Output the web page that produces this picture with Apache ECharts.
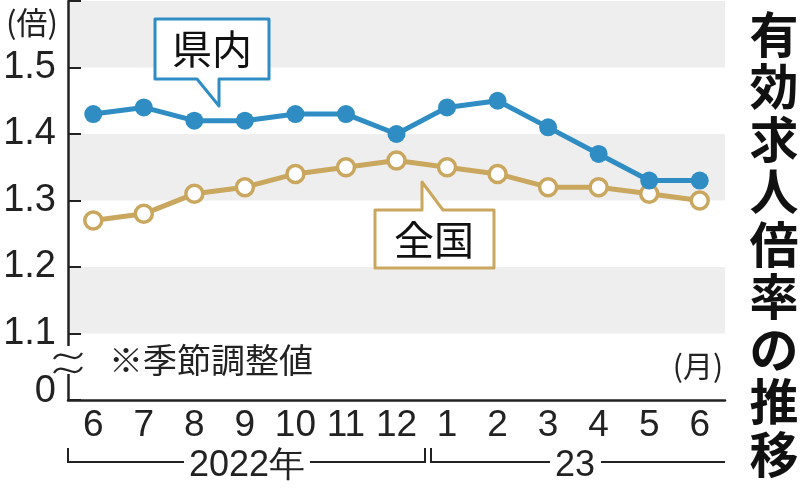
<!DOCTYPE html>
<html><head><meta charset="utf-8">
<script src="https://cdn.jsdelivr.net/npm/echarts@6/dist/echarts.min.js"></script>
<style>html,body{margin:0;padding:0;background:#fff}#c{width:800px;height:492px}</style>
</head><body><div id="c"></div>
<script>
const monthLabels = ['6','7','8','9','10','11','12','1','2','3','4','5','6'];
const categories = ['2022-6','2022-7','2022-8','2022-9','2022-10','2022-11','2022-12','2023-1','2023-2','2023-3','2023-4','2023-5','2023-6'];
const kennai = [1.43,1.44,1.42,1.42,1.43,1.43,1.40,1.44,1.45,1.41,1.37,1.33,1.33];
const zenkoku = [1.27,1.28,1.31,1.32,1.34,1.35,1.36,1.35,1.34,1.32,1.32,1.31,1.30];
const yTicks = [1.0,1.1,1.2,1.3,1.4,1.5,1.6];

const NUM = "'Liberation Sans',sans-serif";
const JP = "'Noto Sans CJK JP',sans-serif";
const BLUE = '#2f8dc3';
const TAN = '#c9a75e';

const chart = echarts.init(document.getElementById('c'), null, {renderer:'canvas'});
chart.setOption({
  animation:false,
  grid:{left:68,right:75,top:1,bottom:92},
  xAxis:{
    type:'category', data:categories, boundaryGap:true,
    axisLine:{lineStyle:{color:'#222',width:2.5}},
    axisTick:{inside:true,length:9,alignWithLabel:true,interval:0,lineStyle:{color:'#222',width:2}},
    axisLabel:{fontFamily:NUM,fontSize:37,color:'#222',margin:7,interval:0,
      formatter:(v,i)=>monthLabels[i]}
  },
  yAxis:{
    type:'value', min:yTicks[0], max:yTicks[yTicks.length-1], interval:0.1,
    axisLine:{show:true,lineStyle:{color:'#222',width:2.5}},
    axisTick:{show:true,inside:true,length:13,lineStyle:{color:'#222',width:2}},
    splitLine:{show:false},
    splitArea:{show:true,areaStyle:{color:['rgba(255,255,255,0)','#eeeeee']}},
    axisLabel:{fontFamily:NUM,fontSize:38,color:'#222',margin:12,
      formatter:v=>{const r=Math.round(v*10)/10; if(r===1.0) return '{z|0}'; if(r===1.6) return ''; return r.toFixed(1);},
      rich:{z:{fontFamily:NUM,fontSize:38,color:'#222',padding:[0,0,16,0]}}}
  },
  series:[
    {name:'全国',type:'line',data:zenkoku,symbol:'circle',symbolSize:17,
     lineStyle:{color:TAN,width:5},itemStyle:{color:'#fff',borderColor:TAN,borderWidth:3.5},z:3},
    {name:'県内',type:'line',data:kennai,symbol:'circle',symbolSize:18,
     lineStyle:{color:BLUE,width:5},itemStyle:{color:BLUE},z:4}
  ],
  graphic:[
    {type:'text',x:32,y:22,style:{text:'(倍)',font:"31px "+JP,fill:'#222',textAlign:'center',textVerticalAlign:'middle'}},
    {type:'text',x:774,y:8,style:{text:'有\n効\n求\n人\n倍\n率\n\u306e\n推\n移',font:"bold 49px "+JP,lineHeight:52.5,fill:'#111',textAlign:'center',textVerticalAlign:'top'}},
    {type:'text',x:211,y:360,style:{text:'※季節調整値',font:"34px "+JP,fill:'#222',textAlign:'center',textVerticalAlign:'middle'}},
    {type:'text',x:698,y:366,style:{text:'(月)',font:"30px "+JP,fill:'#222',textAlign:'center',textVerticalAlign:'middle'}},
    {type:'rect',shape:{x:62,y:346,width:12,height:28},style:{fill:'#fff'},z:100},
    {type:'bezierCurve',shape:{x1:54,y1:359,cpx1:62,cpy1:346,cpx2:74,cpy2:367,x2:82,y2:353},style:{fill:null,stroke:'#222',lineWidth:2.2},z:101},
    {type:'bezierCurve',shape:{x1:54,y1:373,cpx1:62,cpy1:360,cpx2:74,cpy2:381,x2:82,y2:367},style:{fill:null,stroke:'#222',lineWidth:2.2},z:101},
    {type:'polygon',shape:{points:[[155,19],[269,19],[269,79],[219,79],[219,106],[197,79],[155,79]]},style:{fill:'#fff',stroke:BLUE,lineWidth:3,lineJoin:'round'},z:50},
    {type:'text',x:212,y:49,style:{text:'県内',font:"40px "+JP,fill:'#111',textAlign:'center',textVerticalAlign:'middle'},z:51},
    {type:'polygon',shape:{points:[[375,210],[422,210],[422,182],[443,210],[494,210],[494,268],[375,268]]},style:{fill:'#fff',stroke:TAN,lineWidth:3,lineJoin:'round'},z:50},
    {type:'text',x:434,y:240,style:{text:'全国',font:"40px "+JP,fill:'#111',textAlign:'center',textVerticalAlign:'middle'},z:51},
    {type:'polyline',shape:{points:[[68,448],[68,462],[184,462]]},style:{fill:null,stroke:'#222',lineWidth:2}},
    {type:'polyline',shape:{points:[[310,462],[425,462],[425,448]]},style:{fill:null,stroke:'#222',lineWidth:2}},
    {type:'text',x:247,y:466,style:{text:'2022年',font:"36px "+NUM,fill:'#222',textAlign:'center',textVerticalAlign:'middle'}},
    {type:'polyline',shape:{points:[[431,448],[431,462],[550,462]]},style:{fill:null,stroke:'#222',lineWidth:2}},
    {type:'polyline',shape:{points:[[601,462],[725,462]]},style:{fill:null,stroke:'#222',lineWidth:2}},
    {type:'text',x:575,y:466,style:{text:'23',font:"36px "+NUM,fill:'#222',textAlign:'center',textVerticalAlign:'middle'}}
  ]
});
</script></body></html>
